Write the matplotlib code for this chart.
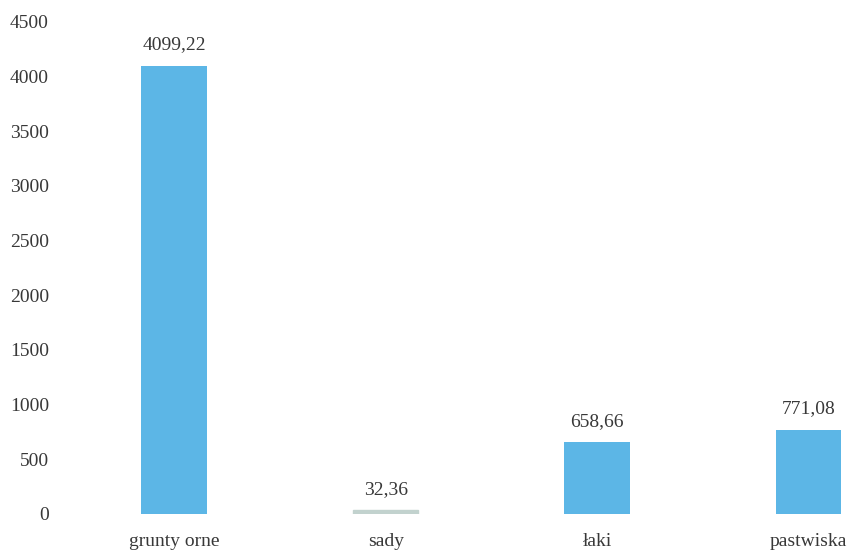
import matplotlib.pyplot as plt

plt.rcParams['font.family'] = ['Liberation Serif', 'DejaVu Serif']

categories = ['grunty orne', 'sady', 'łaki', 'pastwiska']
values = [4099.22, 32.36, 658.66, 771.08]
value_labels = ['4099,22', '32,36', '658,66', '771,08']
yticks = [0, 500, 1000, 1500, 2000, 2500, 3000, 3500, 4000, 4500]

bar_color = '#5cb6e6'
text_color = '#383838'

fig = plt.figure(figsize=(8.53, 5.53), dpi=100)
ax = fig.add_axes([60 / 853, 39 / 553, 793 / 853, 492 / 553])

x = list(range(len(categories)))
bars = ax.bar(x, values, width=0.31, color=bar_color)
bars[1].set_color('#c2d2ce')

# value labels above each bar
for xi, v, lab in zip(x, values, value_labels):
    ax.annotate(lab, xy=(xi, v), xytext=(0, 15), textcoords='offset points',
                ha='center', va='center', fontsize=14, color=text_color)

ax.set_xlim(-0.54, 3.21)
ax.set_ylim(0, 4500)
ax.set_yticks(yticks)
ax.set_yticklabels([str(t) for t in yticks], fontsize=14, color=text_color)
ax.set_xticks(x)
ax.set_xticklabels(categories, fontsize=14, color=text_color)
ax.tick_params(axis='x', length=0, pad=14)
ax.tick_params(axis='y', length=0, pad=8)

for s in ax.spines.values():
    s.set_visible(False)

fig.savefig('out.png', dpi=100)
